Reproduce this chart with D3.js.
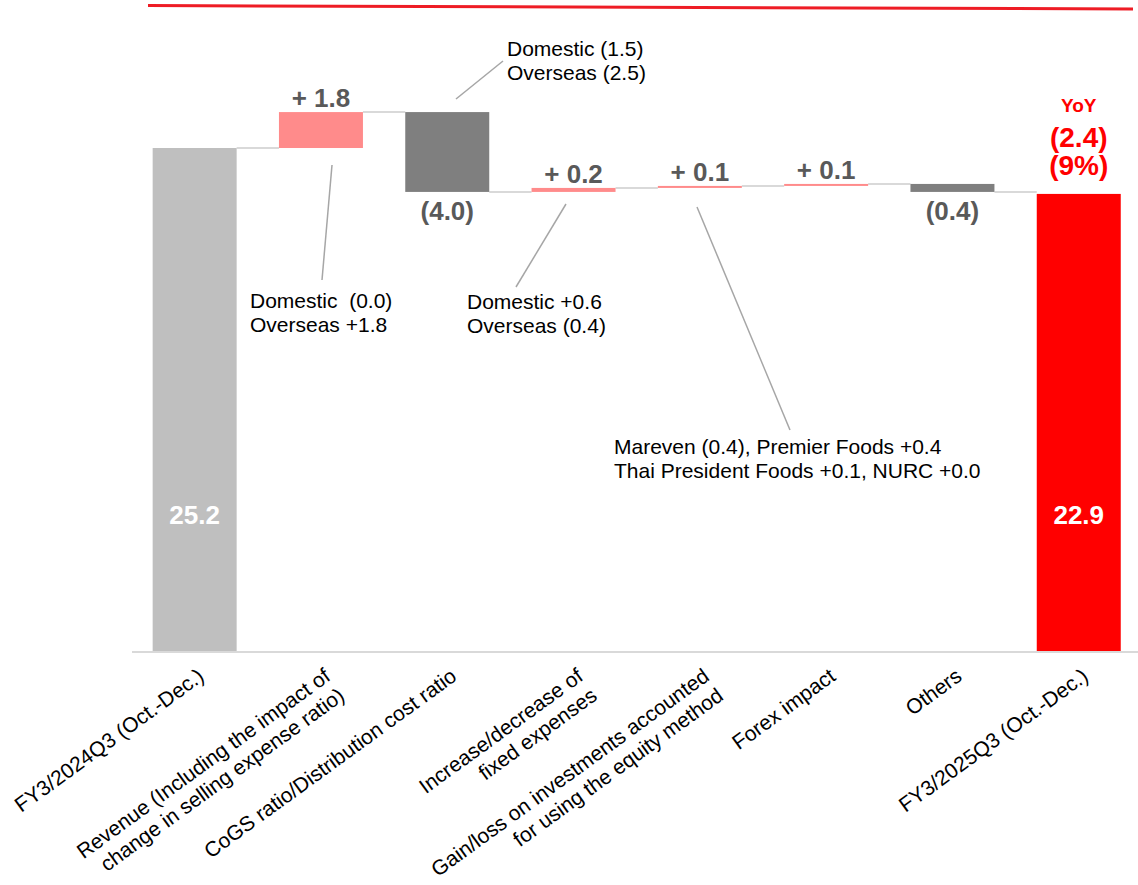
<!DOCTYPE html>
<html>
<head>
<meta charset="utf-8">
<script src="https://cdn.jsdelivr.net/npm/d3@7"></script>
<style>
  html, body { margin: 0; padding: 0; background: #fff; }
  svg { display: block; }
  text { font-family: "Liberation Sans", Arial, Helvetica, sans-serif; }
</style>
</head>
<body>
<svg id="chart" width="1138" height="885"></svg>
<script>
// ---- data ----------------------------------------------------------------
const categories = [
  "FY3/2024Q3 (Oct.-Dec.)",
  "Revenue (Including the impact of\nchange in selling expense ratio)",
  "CoGS ratio/Distribution cost ratio",
  "Increase/decrease of\nfixed expenses",
  "Gain/loss on investments accounted\nfor using the equity method",
  "Forex impact",
  "Others",
  "FY3/2025Q3 (Oct.-Dec.)"
];
// first and last are totals, the rest are changes
const values = [25.2, 1.8, -4.0, 0.2, 0.1, 0.1, -0.4, 22.9];
const kinds  = ["total", "delta", "delta", "delta", "delta", "delta", "delta", "total"];

const yoyLines = ["YoY", "(2.4)", "(9%)"];

const noteLines = [
  ["Domestic (1.5)", "Overseas (2.5)"],
  ["Domestic  (0.0)", "Overseas +1.8"],
  ["Domestic +0.6", "Overseas (0.4)"],
  ["Mareven (0.4), Premier Foods +0.4", "Thai President Foods +0.1, NURC +0.0"]
];

// ---- layout ----------------------------------------------------------------
const baseY = 651;
const pxPerUnit = 19.96;
const colors = {
  start: "#bfbfbf", end: "#ff0000", up: "#ff8b8b", down: "#7f7f7f",
  connector: "#d9d9d9", label: "#595959", note: "#000000", leader: "#a6a6a6",
  accent: "#ee1c25"
};
const notePlacement = [
  { x: 507, y: 56, from: [456, 99], to: [503, 61] },
  { x: 250, y: 308, from: [332, 165], to: [322, 280] },
  { x: 467, y: 309, from: [566, 204], to: [516, 287] },
  { x: 614, y: 454, from: [697, 207], to: [790, 430] }
];

const svg = d3.select("#chart");

const x = d3.scaleBand()
  .domain(categories)
  .range([131.5, 1141.9])
  .paddingInner(0.335)
  .paddingOuter(0.1675);

const y = d3.scaleLinear()
  .domain([0, 30])
  .range([baseY, baseY - 30 * pxPerUnit]);

// running totals for the waterfall segments
let running = 0;
const segs = values.map((v, i) => {
  const kind = kinds[i];
  let lo, hi;
  if (kind === "total") { lo = 0; hi = v; }
  else { lo = running; hi = running + v; }
  running = hi;
  let fill;
  if (kind === "total") fill = i === 0 ? colors.start : colors.end;
  else fill = v >= 0 ? colors.up : colors.down;
  return { cat: categories[i], v, kind, lo, hi, after: hi, fill, i };
});

const fmt = d => d.kind === "total" ? d.v.toFixed(1)
  : (d.v >= 0 ? "+ " + d.v.toFixed(1) : "(" + Math.abs(d.v).toFixed(1) + ")");

// top accent rule
svg.append("line")
  .attr("x1", 148).attr("y1", 5.5).attr("x2", 1133).attr("y2", 9)
  .attr("stroke", colors.accent).attr("stroke-width", 3);

// axis line
const axis = d3.axisBottom(x).tickSize(0).tickSizeOuter(0).tickFormat("");
const axisG = svg.append("g").attr("transform", `translate(0,${baseY + 0.5})`).call(axis);
axisG.select(".domain").attr("stroke", colors.connector).attr("stroke-width", 2);

// connectors between consecutive bars
svg.append("g").selectAll("line")
  .data(segs.slice(0, -1))
  .join("line")
  .attr("x1", d => x(d.cat) + x.bandwidth())
  .attr("x2", d => x(categories[d.i + 1]))
  .attr("y1", d => y(d.after))
  .attr("y2", d => y(d.after))
  .attr("stroke", colors.connector)
  .attr("stroke-width", 2);

// bars
svg.append("g").selectAll("rect")
  .data(segs)
  .join("rect")
  .attr("x", d => x(d.cat))
  .attr("width", x.bandwidth())
  .attr("y", d => y(Math.max(d.lo, d.hi)))
  .attr("height", d => Math.abs(y(d.lo) - y(d.hi)))
  .attr("fill", d => d.fill);

// value labels
const cx = d => x(d.cat) + x.bandwidth() / 2;
svg.append("g").selectAll("text")
  .data(segs)
  .join("text")
  .attr("x", cx)
  .attr("y", d => {
    if (d.kind === "total") return baseY - 127;
    if (d.v >= 0) return y(d.hi) - 5;
    return y(d.hi) + 28;
  })
  .attr("text-anchor", "middle")
  .attr("font-size", 26)
  .attr("font-weight", "bold")
  .attr("fill", d => d.kind === "total" ? "#ffffff" : colors.label)
  .text(fmt);

// YoY call-out above the closing bar
const last = segs[segs.length - 1];
const yoyG = svg.append("g").attr("text-anchor", "middle").attr("fill", "#ff0000").attr("font-weight", "bold");
yoyG.append("text").attr("x", cx(last)).attr("y", 111.5).attr("font-size", 19).text(yoyLines[0]);
yoyG.append("text").attr("x", cx(last)).attr("y", 146.5).attr("font-size", 28).text(yoyLines[1]);
yoyG.append("text").attr("x", cx(last)).attr("y", 174.5).attr("font-size", 28).text(yoyLines[2]);

// breakdown notes with leader lines
noteLines.forEach((lines, k) => {
  const p = notePlacement[k];
  svg.append("line")
    .attr("x1", p.from[0]).attr("y1", p.from[1])
    .attr("x2", p.to[0]).attr("y2", p.to[1])
    .attr("stroke", colors.leader).attr("stroke-width", 1.5);
  const t = svg.append("text")
    .attr("font-size", 21)
    .attr("fill", colors.note)
    .style("white-space", "pre");
  lines.forEach((ln, j) => {
    t.append("tspan").attr("x", p.x).attr("y", p.y + j * 24).text(ln);
  });
});

// rotated category labels
const angle = -36;
categories.forEach(c => {
  const g = svg.append("g")
    .attr("transform", `translate(${x(c) + x.bandwidth() / 2 + 2},${baseY + 16}) rotate(${angle})`);
  c.split("\n").forEach((ln, j) => {
    g.append("text")
      .attr("x", 0)
      .attr("y", 15 + j * 24)
      .attr("text-anchor", "end")
      .attr("font-size", 21)
      .attr("fill", "#000")
      .text(ln);
  });
});
</script>
</body>
</html>
